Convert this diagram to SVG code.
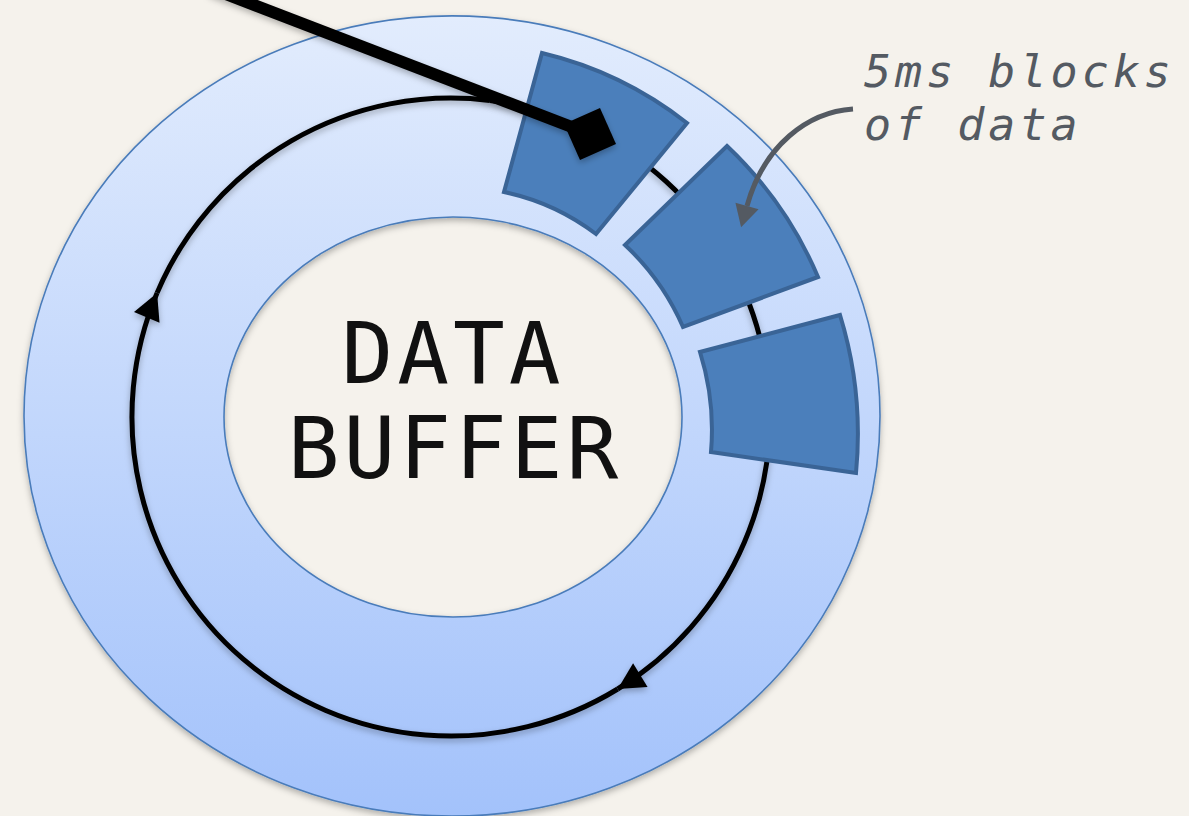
<svg xmlns="http://www.w3.org/2000/svg" width="1189" height="816" viewBox="0 0 1189 816">
<defs>
<style>
.bg{fill:#f5f2ec}
.ring{fill:url(#ringGrad);stroke:#4a7cba;stroke-width:1.6;fill-rule:evenodd}
.block{fill:#4b7fbb;stroke:#3a6496;stroke-width:4;stroke-linejoin:miter}
.cycle{fill:none;stroke:#000;stroke-width:5}
.pointer{fill:none;stroke:#000;stroke-width:12}
.note-arrow{fill:none;stroke:#545a62;stroke-width:5}
.title{font-family:"DejaVu Sans Mono","Liberation Mono",monospace;font-size:86px;fill:#111;letter-spacing:4px}
.note{font-family:"DejaVu Sans Mono","Liberation Mono",monospace;font-style:italic;font-size:45px;fill:#545a62;letter-spacing:4px}
</style>
<linearGradient id="ringGrad" gradientUnits="userSpaceOnUse" x1="0" y1="16" x2="0" y2="816">
<stop offset="0" stop-color="#e2ecfd"/>
<stop offset="1" stop-color="#a3c2fb"/>
</linearGradient>
<filter id="shadow" filterUnits="userSpaceOnUse" x="-50" y="-50" width="1289" height="916">
<feDropShadow dx="0" dy="3" stdDeviation="3" flood-color="#000" flood-opacity="0.28"/>
</filter>
<marker id="arrow" markerUnits="userSpaceOnUse" markerWidth="30" markerHeight="30" viewBox="-24 -13 26 26" refX="0" refY="0" orient="auto">
<path d="M0,0 L-23,-12 L-23,12 Z" fill="#000"/>
</marker>
<marker id="diamond" markerUnits="userSpaceOnUse" markerWidth="60" markerHeight="60" viewBox="-28 -28 56 56" refX="0" refY="0" orient="auto">
<path d="M-26,0 L0,-26 L26,0 L0,26 Z" fill="#000"/>
</marker>
<marker id="grayArrow" markerUnits="userSpaceOnUse" markerWidth="30" markerHeight="30" viewBox="-6 -14 30 28" refX="0" refY="0" orient="auto">
<path d="M22,0 L0,-12 L0,12 Z" fill="#545a62"/>
</marker>
</defs>
<rect class="bg" x="0" y="0" width="1189" height="816"/>

<g id="buffer-ring">
<path class="ring" filter="url(#shadow)" d="M24,416 A428,400 0 1 0 880,416 A428,400 0 1 0 24,416 Z M224,417 A229,200 0 1 1 682,417 A229,200 0 1 1 224,417 Z"/>
</g>

<g id="connectors-cycle">
<path class="cycle" filter="url(#shadow)" marker-end="url(#arrow)" d="M489.9,100.4 A319,319 0 0 1 617.7,689"/>
<path class="cycle" filter="url(#shadow)" marker-end="url(#arrow)" d="M617.7,689 A319,319 0 0 1 157.1,292.9"/>
<path class="cycle" filter="url(#shadow)" d="M157.1,292.9 A319,319 0 0 1 489.9,100.4"/>
</g>

<g id="block-1">
<path class="block" d="M542,53 A376,376 0 0 1 687,123 L596,234 A232,232 0 0 0 504,192 Z"/>
</g>
<g id="block-2">
<path class="block" d="M727,146 A390,390 0 0 1 818,277 L683,327 A247,247 0 0 0 625,245 Z"/>
</g>
<g id="block-3">
<path class="block" d="M840,315 A405,405 0 0 1 856,473 L711,452 A260,260 0 0 0 700,352 Z"/>
</g>

<g id="connectors">
<path class="pointer" filter="url(#shadow)" marker-end="url(#diamond)" d="M210,-12 L590,134"/>
<path class="note-arrow" marker-end="url(#grayArrow)" d="M853,109 C808,112 764,145 747,206"/>
</g>

<g id="data-buffer-label">
<text class="title" x="453" y="383" text-anchor="middle">DATA</text>
<text class="title" x="455" y="478" text-anchor="middle">BUFFER</text>
</g>

<g id="note-label">
<text class="note" x="864" y="87">5ms blocks</text>
<text class="note" x="864" y="140">of data</text>
</g>
</svg>
